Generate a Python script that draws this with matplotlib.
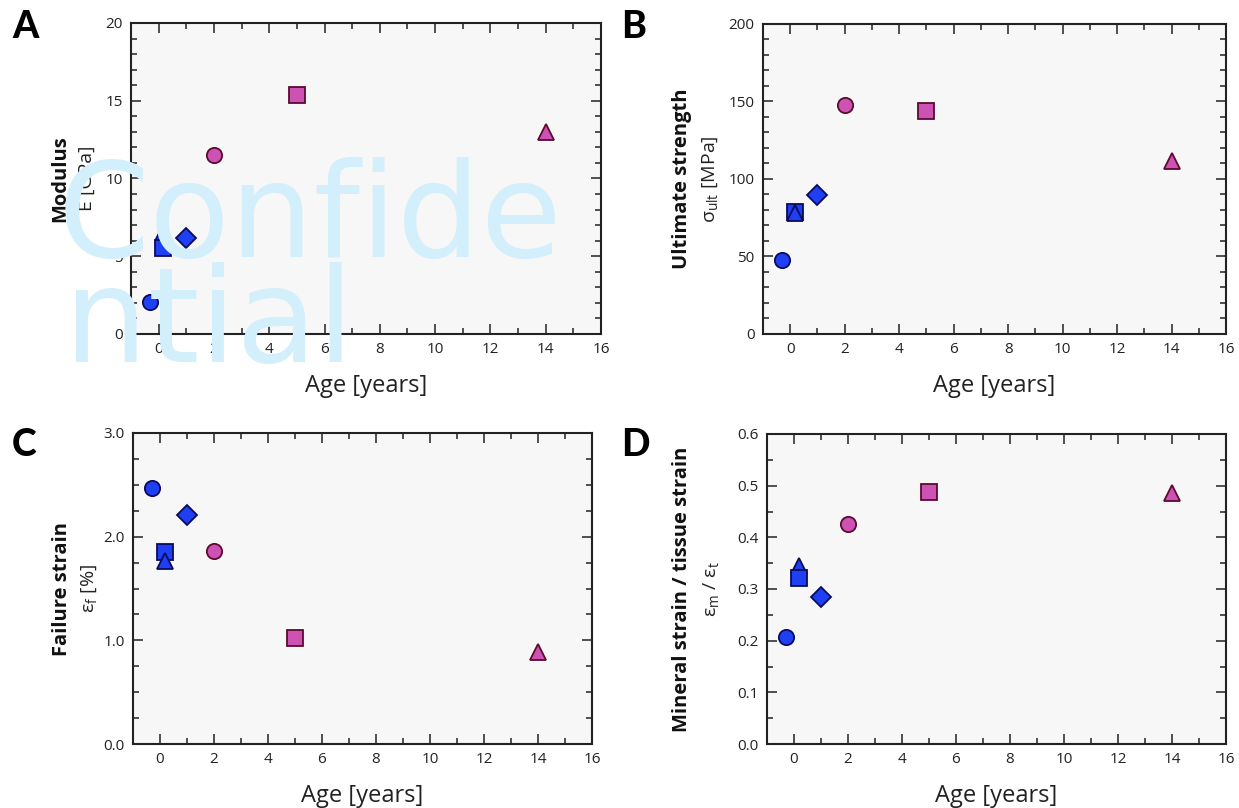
import matplotlib
matplotlib.use("Agg")
import matplotlib.pyplot as plt
from matplotlib.ticker import MultipleLocator, FormatStrFormatter

# Specimens: age in years and marker shape, shared by all four panels
ages = [-0.3, 0.17, 0.17, 1.0, 2.0, 5.0, 14.0]
shapes = ['o', '^', 's', 'D', 'o', 's', '^']
groups = ['young', 'young', 'young', 'young', 'old', 'old', 'old']

modulus = [2.05, 6.5, 5.5, 6.2, 11.5, 15.4, 13.0]
strength = [47.5, 78, 79, 89.5, 148, 144, 111.5]
failure_strain = [2.47, 1.77, 1.85, 2.21, 1.86, 1.02, 0.89]
strain_ratio = [0.208, 0.345, 0.322, 0.285, 0.426, 0.488, 0.486]

age_ticks = [0, 2, 4, 6, 8, 10, 12, 14, 16]

FILL = {'young': '#1f3ff2', 'old': '#cc52b4'}
EDGE = {'young': '#0b0b5e', 'old': '#5c0a2e'}

REG = 'Open Sans'
BOLD = 'Open Sans'

plt.rcParams['mathtext.fontset'] = 'custom'
plt.rcParams['mathtext.rm'] = REG
plt.rcParams['mathtext.it'] = REG + ':italic'

fig = plt.figure(figsize=(12.39, 8.08), dpi=100)
W, H = 1239.0, 808.0


def axes_px(left, top, right, bottom):
    return fig.add_axes([left / W, 1 - bottom / H, (right - left) / W, (bottom - top) / H])


panels = [
    dict(rect=(131, 23, 601, 334), y=modulus, ylim=(0, 20), major=5, minor=1, fmt='%d',
         title='Modulus', unit='E [GPa]', off_b=71, off_r=44, letter='A', tri_top=False),
    dict(rect=(763, 24, 1226, 334), y=strength, ylim=(0, 200), major=50, minor=10, fmt='%d',
         title='Ultimate strength', unit='σ$_{\\mathrm{ult}}$ [MPa]', off_b=81, off_r=53,
         letter='B', tri_top=True),
    dict(rect=(133, 433, 592, 744), y=failure_strain, ylim=(0, 3.0), major=1.0, minor=0.25,
         fmt='%.1f', title='Failure strain', unit='ε$_{\\mathrm{f}}$ [%]', off_b=71,
         off_r=44, letter='C', tri_top=True),
    dict(rect=(767, 434, 1226, 744), y=strain_ratio, ylim=(0, 0.6), major=0.1, minor=0.05,
         fmt='%.1f', title='Mineral strain / tissue strain',
         unit='ε$_{\\mathrm{m}}$ / ε$_{\\mathrm{t}}$', off_b=85, off_r=56,
         letter='D', tri_top=False),
]

letter_pos = {'A': (12, 10), 'B': (621, 10), 'C': (12, 428), 'D': (621, 428)}
marker_size = {'o': 11, 's': 11, '^': 12, 'D': 10}

for p in panels:
    ax = axes_px(*p['rect'])
    ax.set_facecolor('#f7f7f7')
    for i in range(len(ages)):
        z = 3
        if shapes[i] == '^' and groups[i] == 'young':
            z = 4 if p['tri_top'] else 2.8
        ax.plot(ages[i], p['y'][i], marker=shapes[i], linestyle='none',
                markersize=marker_size[shapes[i]],
                markerfacecolor=FILL[groups[i]], markeredgecolor=EDGE[groups[i]],
                markeredgewidth=1.3, zorder=z, clip_on=False)
    ax.set_xlim(-1, 16)
    ax.set_ylim(*p['ylim'])
    ax.set_xticks(age_ticks)
    ax.xaxis.set_minor_locator(MultipleLocator(1))
    ax.yaxis.set_major_locator(MultipleLocator(p['major']))
    ax.yaxis.set_minor_locator(MultipleLocator(p['minor']))
    ax.yaxis.set_major_formatter(FormatStrFormatter(p['fmt']))
    ax.tick_params(which='both', direction='in', top=True, right=True, width=1.1,
                   color='#222222', labelsize=11, labelcolor='#222222', pad=6)
    ax.tick_params(which='major', length=7)
    ax.tick_params(which='minor', length=4.3)
    for lab in ax.get_xticklabels() + ax.get_yticklabels():
        lab.set_family(REG)
    for s in ax.spines.values():
        s.set_linewidth(1.5)
        s.set_color('#222222')
    ax.set_xlabel('Age [years]', fontsize=17, family=REG, labelpad=12, color='#222222')
    ax.annotate(p['title'], xy=(0, 0.5), xycoords='axes fraction',
                xytext=(-p['off_b'] * 0.72, 0), textcoords='offset points',
                rotation=90, ha='center', va='center', fontsize=14.5, fontweight='bold',
                family=BOLD, color='#111111')
    ax.annotate(p['unit'], xy=(0, 0.5), xycoords='axes fraction',
                xytext=(-p['off_r'] * 0.72, 0), textcoords='offset points',
                rotation=90, ha='center', va='center', fontsize=14, family=REG,
                color='#222222')
    lx, ly = letter_pos[p['letter']]
    fig.text(lx / W, 1 - ly / H, p['letter'], ha='left', va='top', fontsize=27,
             fontweight='black', family='Lato', color='black')

# Watermark across the first panel
wm = '#d3effb'
fig.text(58 / W, 1 - 257 / H, 'Confide', fontsize=95, color=wm, ha='left',
         va='baseline', family='DejaVu Sans', zorder=10)
fig.text(64 / W, 1 - 362 / H, 'ntial', fontsize=95, color=wm, ha='left',
         va='baseline', family='DejaVu Sans', zorder=10)

fig.savefig('out.png', dpi=100, facecolor='white')
